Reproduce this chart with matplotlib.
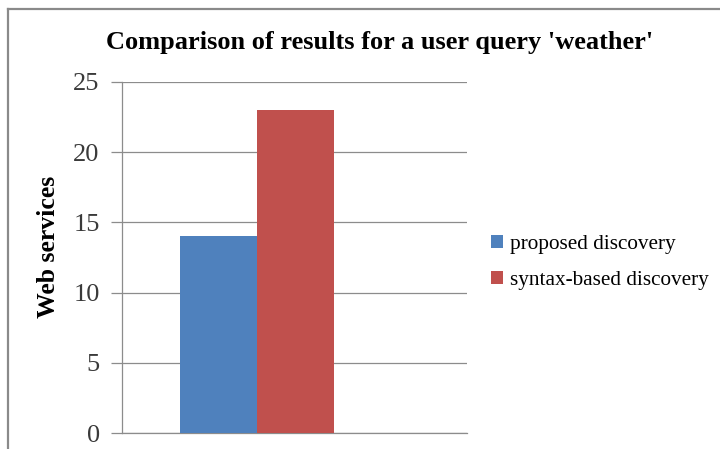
import matplotlib
import matplotlib.pyplot as plt
from matplotlib.lines import Line2D

matplotlib.use("Agg")

categories = ["weather"]
series_names = ["proposed discovery", "syntax-based discovery"]
series_values = [[14], [23]]
series_colors = ["#4f81bd", "#c0504d"]
y_ticks = [0, 5, 10, 15, 20, 25]

plt.rcParams["font.family"] = ["Liberation Serif", "DejaVu Serif"]

fig = plt.figure(figsize=(7.2, 4.49), dpi=100)
ax = fig.add_axes([0.1694, 0.0356, 0.4792, 0.7818])

width = 0.35
for i, (name, vals) in enumerate(zip(series_names, series_values)):
    offset = (i - 0.5) * width
    ax.bar([c + offset for c in range(len(categories))], vals, width,
           color=series_colors[i], label=name, zorder=3)

ax.set_xlim(-0.614, 0.955)
ax.set_ylim(0, 25)
ax.set_yticks(y_ticks)
ax.set_xticks([])
ax.yaxis.grid(True, color="#8c8c8c", linewidth=0.9, zorder=0)
ax.tick_params(axis="y", length=8, width=0.9, color="#8c8c8c",
               labelsize=19, labelcolor="#3a3a3a", pad=8)
for side in ["top", "right"]:
    ax.spines[side].set_visible(False)
for side in ["left", "bottom"]:
    ax.spines[side].set_color("#8c8c8c")
    ax.spines[side].set_linewidth(0.9)

ax.set_ylabel("Web services", fontsize=18.5, fontweight="bold")
ax.yaxis.set_label_coords(-0.18, 0.53)
fig.text(0.527, 0.905, "Comparison of results for a user query 'weather'",
         ha="center", va="center", fontsize=19, fontweight="bold")

ax.legend(loc="center left", bbox_to_anchor=(1.015, 0.485), frameon=False,
          fontsize=15.3, handlelength=0.55, handleheight=0.55,
          handletextpad=0.35, labelspacing=0.8)

# outer chart frame (partly cut off)
fig.add_artist(Line2D([0.011, 0.011], [0, 0.98], color="#8a8a8a", lw=1.6,
                      transform=fig.transFigure))
fig.add_artist(Line2D([0.011, 1.0], [0.98, 0.98], color="#8a8a8a", lw=1.6,
                      transform=fig.transFigure))

fig.savefig("out.png", dpi=100, facecolor="white")
